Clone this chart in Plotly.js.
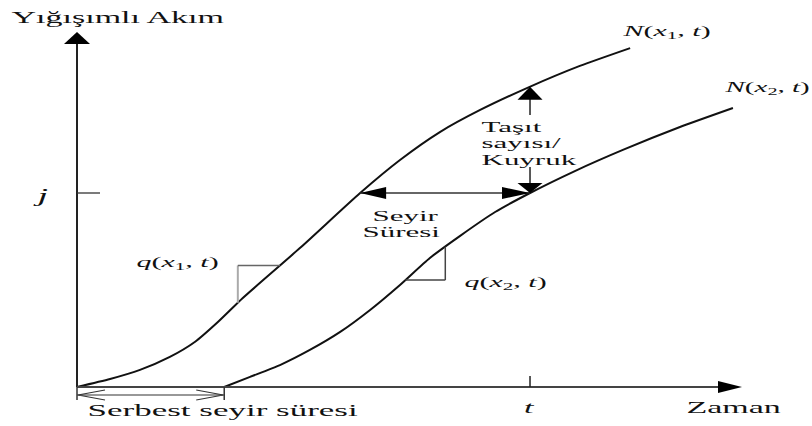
<!DOCTYPE html>
<html>
<head>
<meta charset="utf-8">
<script src="https://cdn.plot.ly/plotly-3.0.1.min.js"></script>
<style>
  html, body { margin: 0; padding: 0; background: #fff; }
  #chart { width: 812px; height: 426px; }
</style>
</head>
<body>
<div id="chart"></div>
<script>
// Cumulative vehicle counts N(x, t) at the upstream (x1) and downstream (x2) points
const time1  = [0, 0.73, 1.39, 2.05, 2.60, 3.11, 3.66, 4.92, 6.25, 7.13, 8.01, 8.90, 9.98, 11.10, 12.21];
const count1 = [0, 4.1, 8.8, 15.5, 23.2, 33.5, 45.9, 71.6, 100, 117.0, 131.4, 142.8, 154.6, 165.5, 174.7];
const time2  = [3.25, 3.82, 4.48, 5.14, 5.81, 6.47, 7.13, 7.79, 8.45, 9.23, 10.0, 10.99, 12.05, 13.31, 14.48];
const count2 = [0, 5.2, 11.3, 19.1, 28.4, 39.7, 52.6, 66.5, 77.8, 90.2, 100, 111.3, 122.2, 134.0, 143.8];

const tMark = 10;          // observation time t
const jMark = 100;         // vehicle number j
const flowSpan1 = [3.55, 4.48];  // time span of the q(x1, t) slope triangle
const flowSpan2 = [7.25, 8.13];  // time span of the q(x2, t) slope triangle

const curveLabels = ['<i>N</i>(<i>x</i><sub>1</sub>, <i>t</i>)', '<i>N</i>(<i>x</i><sub>2</sub>, <i>t</i>)'];
const flowLabels  = ['<i>q</i>(<i>x</i><sub>1</sub>, <i>t</i>)', '<i>q</i>(<i>x</i><sub>2</sub>, <i>t</i>)'];

const SERIF = 'Liberation Serif, Times New Roman, serif';
const INK = '#111111';
const STRETCH = 2.0;   // wide lettering of the figure

function interp(xs, ys, x) {
  for (let i = 1; i < xs.length; i++) {
    if (x <= xs[i]) {
      const f = (x - xs[i - 1]) / (xs[i] - xs[i - 1]);
      return ys[i - 1] + f * (ys[i] - ys[i - 1]);
    }
  }
  return ys[ys.length - 1];
}
function inverse(xs, ys, y) { return interp(ys, xs, y); }

const freeFlow = time2[0];
const n1AtT = interp(time1, count1, tMark);
const n2AtT = interp(time2, count2, tMark);
const x1AtJ = inverse(time1, count1, jMark);
const x2AtJ = inverse(time2, count2, jMark);

const yAxisTop = 183;
const xAxisEnd = 14.68;

const traces = [
  { x: time1, y: count1, mode: 'lines', line: { color: '#111', width: 2, shape: 'spline', smoothing: 0.6 }, hoverinfo: 'skip' },
  { x: time2, y: count2, mode: 'lines', line: { color: '#111', width: 2, shape: 'spline', smoothing: 0.6 }, hoverinfo: 'skip' }
];

const px = { xsizemode: 'pixel', ysizemode: 'pixel' };
const solid = { color: '#000', width: 0 };

// slope triangles
const q1a = interp(time1, count1, flowSpan1[0]);
const q1b = interp(time1, count1, flowSpan1[1]);
const q2a = interp(time2, count2, flowSpan2[0]);
const q2b = interp(time2, count2, flowSpan2[1]);

const shapes = [
  // axes
  { type: 'line', x0: 0, x1: 0, y0: 0, y1: yAxisTop - 2, line: { color: '#222', width: 2 } },
  { type: 'line', x0: 0, x1: xAxisEnd - 0.3, y0: 0, y1: 0, line: { color: '#444', width: 2 } },
  Object.assign({ type: 'path', xanchor: 0, yanchor: yAxisTop, path: 'M0,0 L-13,-12 L13,-12 Z', fillcolor: '#000', line: solid }, px),
  Object.assign({ type: 'path', xanchor: xAxisEnd, yanchor: 0, path: 'M0,0 L-24,6 L-24,-6 Z', fillcolor: '#000', line: solid }, px),
  // t and j ticks
  { type: 'line', x0: tMark, x1: tMark, ysizemode: 'pixel', yanchor: 0, y0: 0, y1: 11, line: { color: '#222', width: 1.5 } },
  { type: 'line', xsizemode: 'pixel', xanchor: 0, x0: 0, x1: 23, y0: jMark, y1: jMark, line: { color: '#333', width: 1.3 } },
  // free-flow travel time
  { type: 'line', x0: 0, x1: 0, ysizemode: 'pixel', yanchor: 0, y0: 0, y1: -13, line: { color: '#333', width: 1.5 } },
  { type: 'line', x0: freeFlow, x1: freeFlow, ysizemode: 'pixel', yanchor: 0, y0: 0, y1: -13, line: { color: '#333', width: 1.5 } },
  { type: 'line', x0: 0, x1: freeFlow, ysizemode: 'pixel', yanchor: 0, y0: -8, y1: -8, line: { color: '#333', width: 1.2 } },
  Object.assign({ type: 'path', xanchor: 0, yanchor: 0, path: 'M28,-3 L1,-8 L28,-13', line: { color: '#333', width: 1.2 } }, px),
  Object.assign({ type: 'path', xanchor: freeFlow, yanchor: 0, path: 'M-28,-3 L-1,-8 L-28,-13', line: { color: '#333', width: 1.2 } }, px),
  // travel time between the curves at j
  { type: 'line', x0: x1AtJ, x1: x2AtJ, y0: jMark, y1: jMark, line: { color: '#333', width: 1.5 } },
  Object.assign({ type: 'path', xanchor: x1AtJ, yanchor: jMark, path: 'M0,0 L26,6 L26,-6 Z', fillcolor: '#000', line: solid }, px),
  Object.assign({ type: 'path', xanchor: x2AtJ, yanchor: jMark, path: 'M0,0 L-28,6 L-28,-6 Z', fillcolor: '#000', line: solid }, px),
  // vehicles between the curves at t (queue)
  { type: 'line', x0: tMark, x1: tMark, y0: 140.2, y1: n1AtT - 5, line: { color: '#222', width: 1.5 } },
  { type: 'line', x0: tMark, x1: tMark, y0: n2AtT + 4, y1: 113.4, line: { color: '#222', width: 1.5 } },
  Object.assign({ type: 'path', xanchor: tMark, yanchor: n1AtT, path: 'M0,0 L-12.5,-13 L12.5,-13 Z', fillcolor: '#000', line: solid }, px),
  Object.assign({ type: 'path', xanchor: tMark, yanchor: n2AtT, path: 'M0,0 L-12.5,10 L12.5,10 Z', fillcolor: '#000', line: solid }, px),
  // flow-rate triangles
  { type: 'line', x0: flowSpan1[0], x1: flowSpan1[0], y0: q1a, y1: q1b, line: { color: '#aaa', width: 2 } },
  { type: 'line', x0: flowSpan1[0], x1: flowSpan1[1], y0: q1b, y1: q1b, line: { color: '#666', width: 1.3 } },
  { type: 'line', x0: flowSpan2[0], x1: flowSpan2[1], y0: q2a, y1: q2a, line: { color: '#444', width: 1.5 } },
  { type: 'line', x0: flowSpan2[1], x1: flowSpan2[1], y0: q2a, y1: q2b, line: { color: '#444', width: 1.5 } }
];

function label(text, x, y, size, xanchor) {
  return { text: text, x: x, y: y, xref: 'x', yref: 'y', showarrow: false,
           xanchor: xanchor || 'left', yanchor: 'middle', borderpad: 0,
           font: { family: SERIF, size: size, color: INK } };
}

const annotations = [
  label('Yığışımlı Akım', -1.48, 190.7, 17),
  label('<i>j</i>', -0.62, 98.5, 19, 'right'),
  label('<i>t</i>', tMark, -10.5, 17, 'center'),
  label('Zaman', 13.42, -10.5, 17),
  label('Serbest seyir süresi', 0.2, -12.0, 17.5),
  label(curveLabels[0], 11.99, 183, 15),
  label(curveLabels[1], 14.24, 154, 14.5),
  label(flowLabels[0], 1.28, 63.9, 15),
  label(flowLabels[1], 8.52, 53.6, 15),
  label('Seyir', 8.06, 88.5, 15.5, 'right'),
  label('Süresi', 8.06, 80.0, 15.5, 'right'),
  label('Taşıt', 8.9, 134.5, 15.5),
  label('sayısı/', 8.9, 126.0, 15.5),
  label('Kuyruk', 8.9, 117.5, 15.5)
];

const layout = {
  width: 812, height: 426,
  margin: { l: 0, r: 0, t: 0, b: 0 },
  paper_bgcolor: '#fff', plot_bgcolor: '#fff',
  showlegend: false,
  xaxis: { range: [-1.6998, 16.225], visible: false, fixedrange: true },
  yaxis: { range: [-20.10, 199.48], visible: false, fixedrange: true },
  shapes: shapes,
  annotations: annotations
};

// widen the lettering horizontally around each label's anchor edge
function widenText(gd) {
  gd.querySelectorAll('g.annotation').forEach(function (g) {
    const idx = +g.getAttribute('data-index');
    const ann = gd.layout.annotations[idx];
    const tg = g.querySelector('.annotation-text-g');
    if (!tg || !ann) return;
    const bb = tg.getBBox();
    let ax = bb.x + bb.width / 2;
    if (ann.xanchor === 'left') ax = bb.x;
    if (ann.xanchor === 'right') ax = bb.x + bb.width;
    tg.setAttribute('transform', 'translate(' + ax + ',0) scale(' + STRETCH + ',1) translate(' + (-ax) + ',0)');
  });
}

Plotly.newPlot('chart', traces, layout, { staticPlot: true, displayModeBar: false })
  .then(widenText);
</script>
</body>
</html>
